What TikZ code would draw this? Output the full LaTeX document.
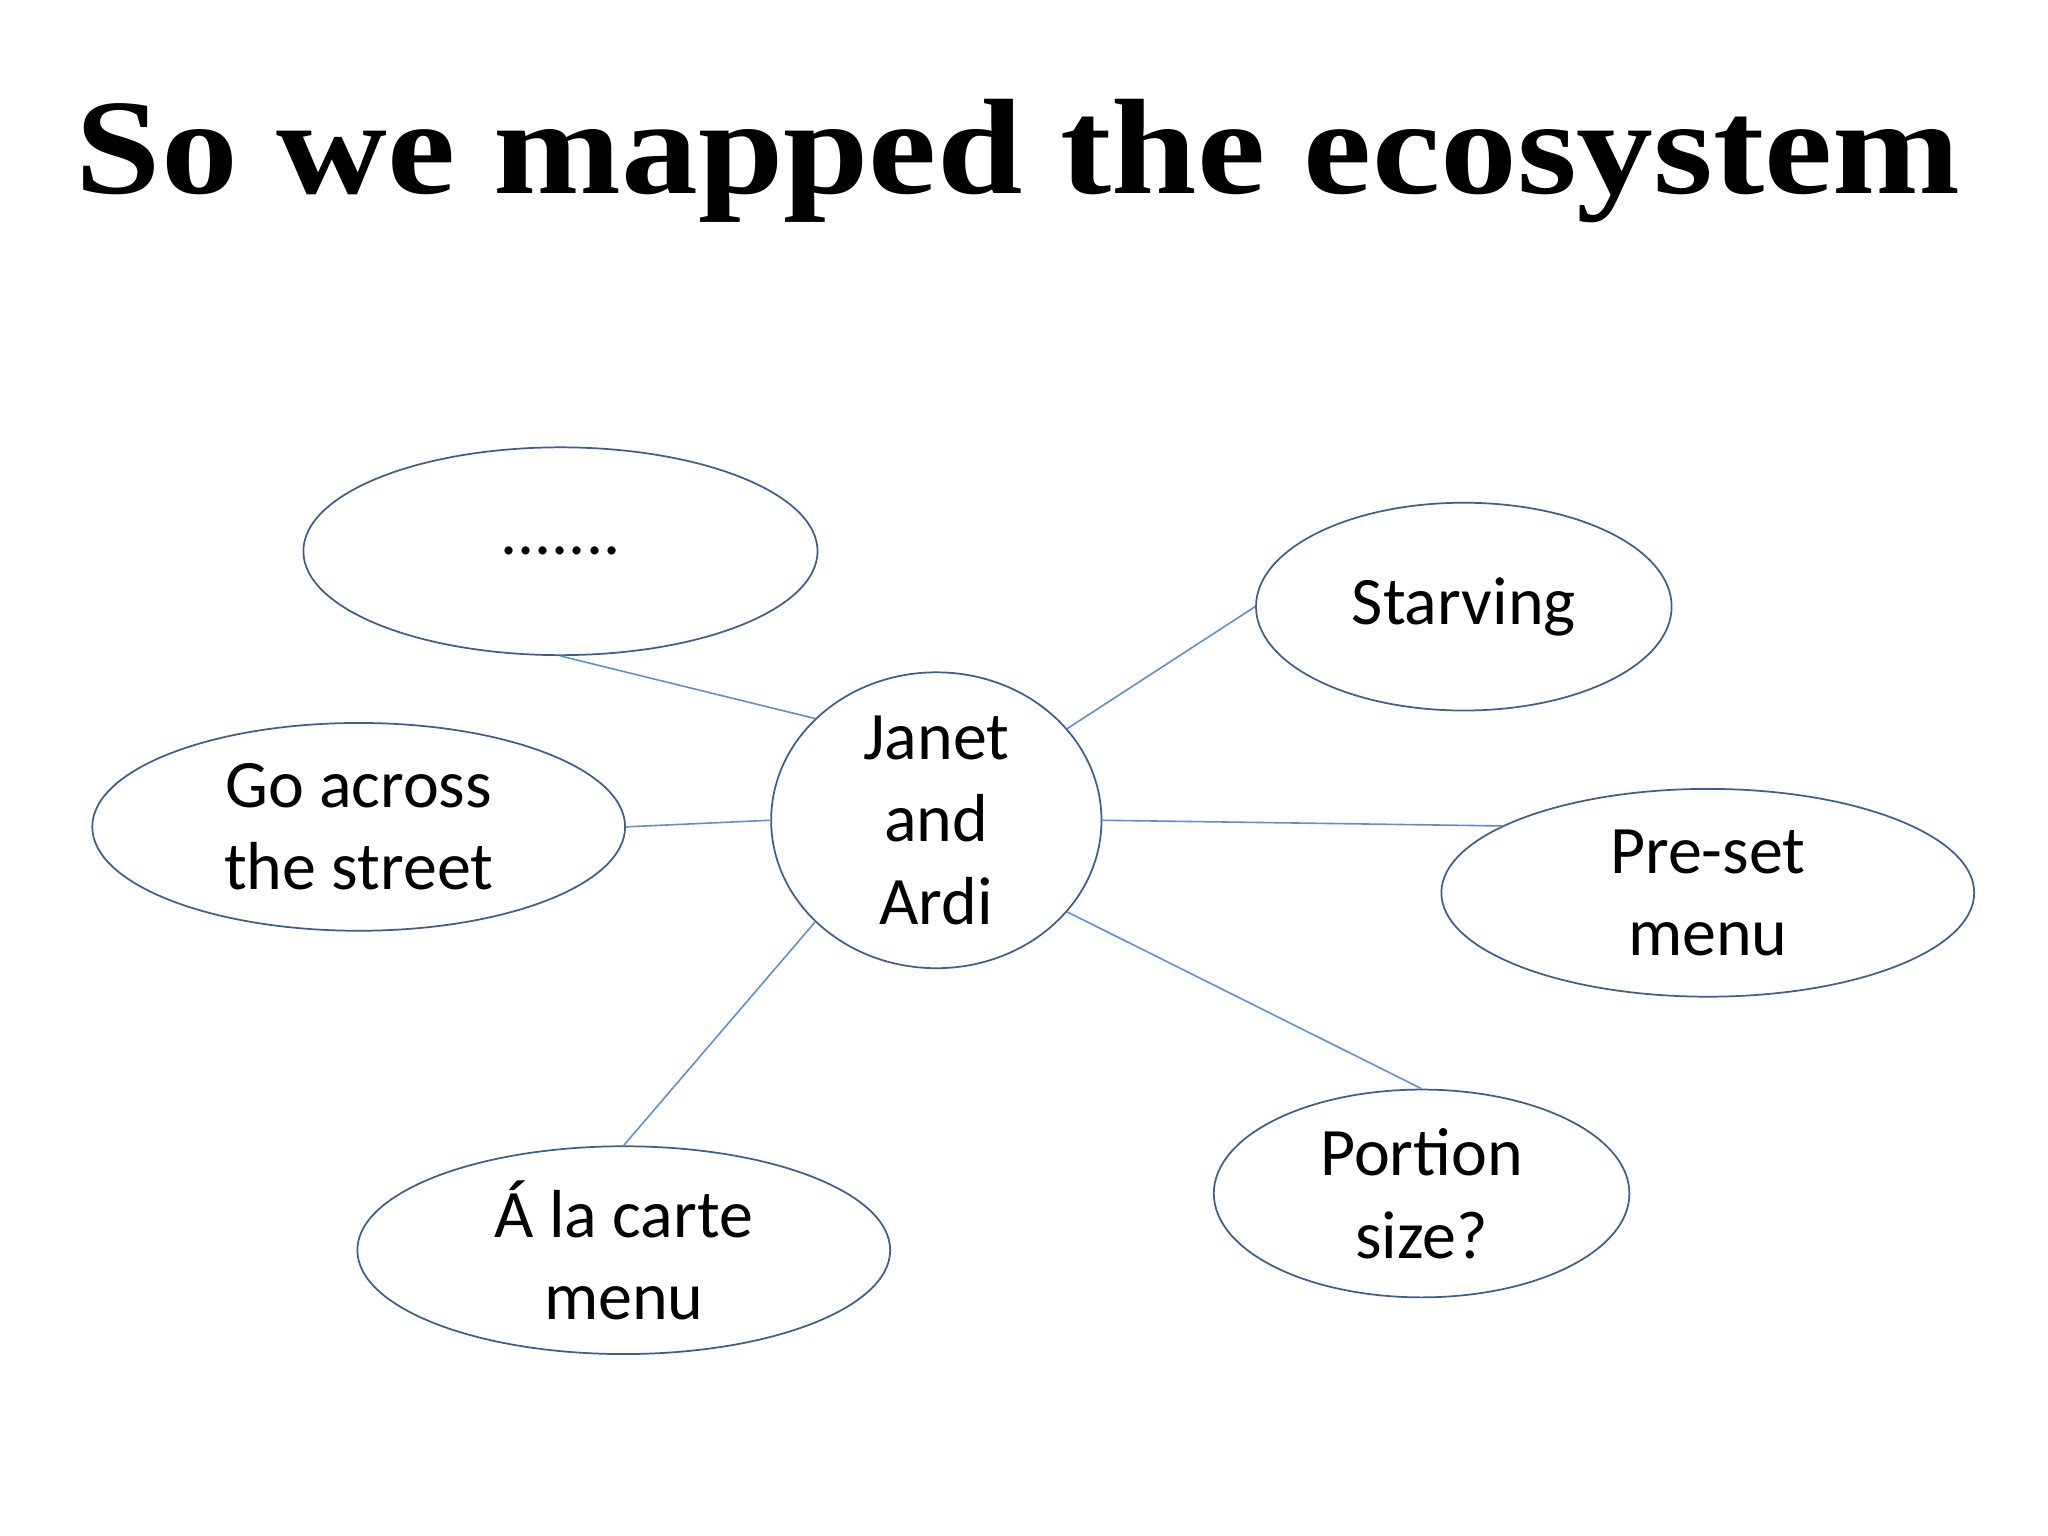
\documentclass[tikz,border=0pt]{standalone}
\usepackage{fontspec}
\setmainfont{Carlito}
\newfontfamily\titlefont{Liberation Serif}
\usetikzlibrary{shapes.geometric}
\definecolor{ellc}{HTML}{3E5F8A}
\definecolor{linec}{HTML}{5E90CC}
\begin{document}
\begin{tikzpicture}[x=0.99pt,y=-0.99pt,
  bub/.style={ellipse,draw=ellc,line width=1.3pt,inner sep=0pt,align=center,
    font=\fontsize{51}{62}\selectfont},
  con/.style={draw=linec,line width=1.2pt}]
\useasboundingbox (0,0) rectangle (1553,1164);
\fill[white] (0,0) rectangle (1553,1164);
\node[font=\titlefont\bfseries\fontsize{102}{110}\selectfont,xscale=1.13] (title) at (772,122) {So we mapped the ecosystem};
\node[bub,minimum width=386,minimum height=156] (dots) at (425,418) {.......};
\node[bub,minimum width=312,minimum height=156] (starv) at (1110,460) {Starving};
\node[bub,minimum width=400,minimum height=156] (go) at (272,627) {Go across\\the street};
\node[bub,minimum width=248,minimum height=198] (ja) at (710,622) {Janet\\and\\Ardi};
\node[bub,minimum width=400,minimum height=156] (pre) at (1295,677) {Pre-set\\menu};
\node[bub,minimum width=312,minimum height=156] (por) at (1078,905) {Portion\\size?};
\node[bub,minimum width=400,minimum height=156] (ala) at (473,948) {Á la carte\\menu};
\draw[con] (dots.south) -- (ja.140);
\draw[con] (starv.west) -- (ja.35);
\draw[con] (go.east) -- (ja.west);
\draw[con] (ja.east) -- (pre.162);
\draw[con] (ja.-35) -- (por.north);
\draw[con] (ja.-140) -- (ala.north);
\end{tikzpicture}
\end{document}
